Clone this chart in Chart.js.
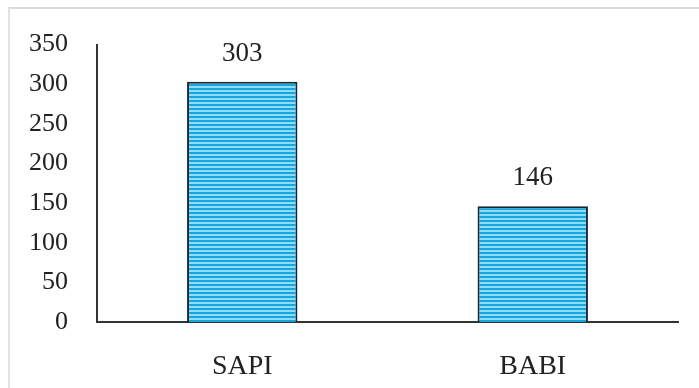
<!DOCTYPE html>
<html>
<head>
<meta charset="utf-8">
<script src="https://cdn.jsdelivr.net/npm/chart.js@4.4.0/dist/chart.umd.min.js"></script>
<style>
  html, body { margin: 0; padding: 0; background: #fff; }
  #wrap { position: relative; width: 699px; height: 388px; }
  #frame { position: absolute; left: 8px; top: 7px; width: 700px; height: 400px;
           border-top: 2px solid #dcdcdc; border-left: 2px solid #e2e2e2; box-sizing: border-box; pointer-events: none; }
</style>
</head>
<body>
<div id="wrap">
  <canvas id="grafico" width="699" height="388"></canvas>
  <div id="frame"></div>
</div>
<script>
// dados do gráfico
const categorias = ['SAPI', 'BABI'];
const valores = [303, 146];
const ticksY = [0, 50, 100, 150, 200, 250, 300, 350];

// padrão listrado das barras
function listras() {
  const c = document.createElement('canvas');
  c.width = 8; c.height = 4;
  const g = c.getContext('2d');
  g.fillStyle = '#17a5df';
  g.fillRect(0, 0, 8, 2);
  g.fillStyle = '#8fdcf7';
  g.fillRect(0, 2, 8, 2);
  return g.createPattern(c, 'repeat');
}

const fonte = { family: '"Liberation Serif", "Times New Roman", serif', size: 26 };

// rótulos acima das barras
const rotulos = {
  id: 'rotulos',
  afterDatasetsDraw(chart) {
    const ctx = chart.ctx;
    const meta = chart.getDatasetMeta(0);
    ctx.save();
    ctx.font = '27px "Liberation Serif", serif';
    ctx.fillStyle = '#222';
    ctx.textAlign = 'center';
    ctx.textBaseline = 'middle';
    meta.data.forEach((bar, i) => {
      ctx.fillText(valores[i], bar.x, bar.y - 28);
    });
    ctx.restore();
  }
};

const ctx = document.getElementById('grafico').getContext('2d');
const grafico = new Chart(ctx, {
  type: 'bar',
  data: {
    labels: categorias,
    datasets: [{
      data: valores,
      backgroundColor: listras(),
      borderColor: '#142630',
      borderWidth: 2,
      borderSkipped: 'bottom',
      barPercentage: 0.38,
      categoryPercentage: 1
    }]
  },
  options: {
    responsive: false,
    animation: false,
    layout: { padding: { top: 41, right: 21, left: 0, bottom: 0 } },
    plugins: { legend: { display: false }, tooltip: { enabled: false } },
    scales: {
      x: {
        grid: { display: false, drawTicks: false },
        border: { display: true, color: '#333', width: 2 },
        ticks: { color: '#222', font: { family: fonte.family, size: 28 }, padding: 28 },
        afterFit(scale) { scale.height = 66; }
      },
      y: {
        min: 0,
        max: 350,
        grid: { display: false, drawTicks: false },
        border: { display: true, color: '#333', width: 2 },
        afterBuildTicks(scale) { scale.ticks = ticksY.map(v => ({ value: v })); },
        ticks: { color: '#222', font: fonte, padding: 29 },
        afterFit(scale) { scale.width = 97; }
      }
    }
  },
  plugins: [rotulos]
});
</script>
</body>
</html>
